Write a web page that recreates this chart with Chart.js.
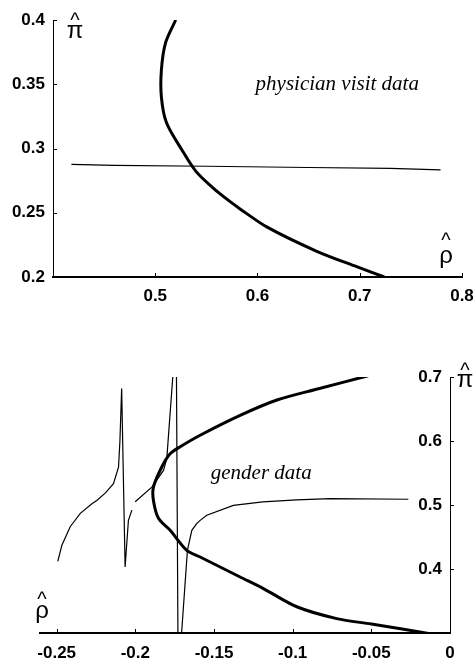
<!DOCTYPE html>
<html>
<head>
<meta charset="utf-8">
<script src="https://cdn.jsdelivr.net/npm/chart.js@4.4.1/dist/chart.umd.min.js"></script>
<style>
  html, body { margin: 0; padding: 0; background: #fff; overflow: hidden; }
  body { width: 473px; height: 661px; position: relative; }
  canvas { position: absolute; left: 0; }
  #visitChart { top: 0; }
  #genderChart { top: 320px; }
</style>
</head>
<body>
<canvas id="visitChart" width="473" height="320"></canvas>
<canvas id="genderChart" width="473" height="341"></canvas>
<script>
// physician visit data (top panel)
const visitRhoTicks = [0.5, 0.6, 0.7, 0.8];
const visitPiTicks = [0.2, 0.25, 0.3, 0.35, 0.4];
const visitThickRho = [0.520, 0.510, 0.506, 0.506, 0.511, 0.526, 0.540, 0.557, 0.571, 0.583, 0.609, 0.658, 0.697, 0.724];
const visitThickPi  = [0.400, 0.382, 0.361, 0.340, 0.320, 0.299, 0.282, 0.269, 0.260, 0.253, 0.239, 0.220, 0.208, 0.200];
const visitThinRho = [0.418, 0.46, 0.55, 0.65, 0.73, 0.779];
const visitThinPi  = [0.2877, 0.2868, 0.2862, 0.2852, 0.2845, 0.2833];

// gender data (bottom panel)
const genderRhoTicks = [-0.25, -0.2, -0.15, -0.1, -0.05, 0];
const genderPiTicks = [0.4, 0.5, 0.6, 0.7];
const genderThickRho = [-0.052, -0.083, -0.110, -0.1334, -0.1588, -0.1715, -0.1779, -0.1832, -0.1885, -0.1885, -0.1853, -0.1779, -0.1673, -0.1588, -0.1334, -0.1186, -0.0974, -0.072, -0.050, -0.0127];
const genderThickPi  = [0.702, 0.682, 0.664, 0.640, 0.609, 0.591, 0.580, 0.5594, 0.528, 0.507, 0.4792, 0.4605, 0.4292, 0.4188, 0.3875, 0.3694, 0.341, 0.3225, 0.314, 0.299];
const genderThinRho = [-0.2493, -0.2467, -0.2414, -0.235, -0.2276, -0.2245, -0.2190, -0.2139, -0.2107, -0.2098, -0.2087, -0.2065, -0.2044, -0.2022, -0.2012, -0.2001, -0.1895, -0.1821, -0.1800, -0.1762, -0.1750, -0.1740, -0.1728, -0.1716, -0.1706, -0.1669, -0.1641, -0.1609, -0.1588, -0.1546, -0.1377, -0.119, -0.0975, -0.0762, -0.0265];
const genderThinPi  = [0.412, 0.437, 0.466, 0.487, 0.502, 0.507, 0.519, 0.5334, 0.559, 0.600, 0.682, 0.403, 0.476, 0.492, null, 0.505, 0.528, 0.554, 0.573, 0.700, 0.760, 0.760, 0.240, 0.240, 0.300, 0.429, 0.4604, 0.4714, 0.476, 0.484, 0.4995, 0.505, 0.508, 0.510, 0.509];

const tickFont = { family: '"Liberation Sans", Arial, sans-serif', size: 17, weight: 'bold' };

function zip(xs, ys) { return xs.map((x, i) => ({ x: x, y: ys[i] })); }
function fmt(v) { return String(+Number(v).toFixed(3)); }

// keep the plot box where the picture has it: fixed axis size, no label overhang
function fixedAxis(ticks, size, horizontal) {
  return {
    afterBuildTicks: s => { s.ticks = ticks.map(v => ({ value: v })); },
    afterFit: s => {
      if (horizontal) s.height = size; else s.width = size;
      s.paddingLeft = s.paddingRight = s.paddingTop = s.paddingBottom = 0;
    }
  };
}

// inward tick marks, hat labels and the panel note
const decor = {
  id: 'decor',
  afterDraw(chart, args, opts) {
    const { ctx, chartArea: a, scales: { x, y } } = chart;
    ctx.save();
    ctx.strokeStyle = '#000';
    ctx.lineWidth = 1;
    ctx.beginPath();
    x.ticks.forEach(t => {
      const px = Math.round(x.getPixelForValue(t.value)) + 0.5;
      ctx.moveTo(px, a.bottom); ctx.lineTo(px, a.bottom - 4);
    });
    const yx = opts.yOnRight ? a.right : a.left;
    y.ticks.forEach(t => {
      const py = Math.round(y.getPixelForValue(t.value)) + 0.5;
      ctx.moveTo(yx, py); ctx.lineTo(yx + 4, py);
    });
    ctx.stroke();

    ctx.fillStyle = '#000';
    ctx.textAlign = 'center';
    ctx.textBaseline = 'alphabetic';
    opts.marks.forEach(m => {
      ctx.font = m.font;
      ctx.fillText(m.text, a[m.ax] + m.dx, a[m.ay] + m.dy);
    });

    ctx.font = 'italic 21px "Liberation Serif", "Times New Roman", serif';
    ctx.textBaseline = 'middle';
    ctx.fillText(opts.note, x.getPixelForValue(opts.noteAt[0]), y.getPixelForValue(opts.noteAt[1]));
    ctx.restore();
  }
};

const hatFont = '20px "Liberation Sans", Arial, sans-serif';
const greekFont = '24px "Liberation Sans", Arial, sans-serif';

function lineSet(data, width, tension) {
  return { data: data, showLine: true, borderColor: '#000', borderWidth: width,
           pointRadius: 0, tension: tension, fill: false, spanGaps: false };
}

function axis(extra) {
  return Object.assign({
    type: 'linear',
    grid: { display: true, drawOnChartArea: false, drawTicks: false },
    border: { display: true, color: '#000', width: 1 },
    ticks: { color: '#000', font: tickFont, callback: fmt, maxRotation: 0, autoSkip: false }
  }, extra);
}

new Chart(document.getElementById('visitChart'), {
  type: 'scatter',
  data: {
    datasets: [
      lineSet(zip(visitThickRho, visitThickPi), 3, 0.3),
      lineSet(zip(visitThinRho, visitThinPi), 1.2, 0)
    ]
  },
  plugins: [decor],
  options: {
    responsive: false, animation: false, devicePixelRatio: 1,
    layout: { padding: { left: 0, right: 11, top: 20, bottom: 13 } },
    plugins: {
      legend: { display: false }, tooltip: { enabled: false },
      decor: {
        yOnRight: false,
        note: 'physician visit data', noteAt: [0.678, 0.3495],
        marks: [
          { text: '^', font: hatFont, ax: 'left', dx: 22, ay: 'top', dy: 7 },
          { text: 'π', font: greekFont, ax: 'left', dx: 22, ay: 'top', dy: 18 },
          { text: '^', font: hatFont, ax: 'right', dx: -16, ay: 'bottom', dy: -30 },
          { text: 'ρ', font: greekFont, ax: 'right', dx: -16, ay: 'bottom', dy: -14 }
        ]
      }
    },
    scales: {
      x: axis(Object.assign({ min: 0.4, max: 0.8, position: 'bottom',
        border: { display: true, color: '#000', width: 2 },
        ticks: { color: '#000', font: tickFont, callback: fmt, maxRotation: 0, autoSkip: false, padding: 9 } },
        fixedAxis(visitRhoTicks, 30, true))),
      y: axis(Object.assign({ min: 0.2, max: 0.4, position: 'left',
        ticks: { color: '#000', font: tickFont, callback: fmt, autoSkip: false, padding: 8 } },
        fixedAxis(visitPiTicks, 53, false)))
    }
  }
});

new Chart(document.getElementById('genderChart'), {
  type: 'scatter',
  data: {
    datasets: [
      lineSet(zip(genderThickRho, genderThickPi), 3, 0.3),
      lineSet(zip(genderThinRho, genderThinPi), 1.2, 0)
    ]
  },
  plugins: [decor],
  options: {
    responsive: false, animation: false, devicePixelRatio: 1,
    layout: { padding: { left: 40, right: 0, top: 57, bottom: 0 } },
    plugins: {
      legend: { display: false }, tooltip: { enabled: false },
      decor: {
        yOnRight: true,
        note: 'gender data', noteAt: [-0.120, 0.5495],
        marks: [
          { text: '^', font: hatFont, ax: 'right', dx: 15, ay: 'top', dy: 0 },
          { text: 'π', font: greekFont, ax: 'right', dx: 15, ay: 'top', dy: 10 },
          { text: '^', font: hatFont, ax: 'left', dx: 2, ay: 'bottom', dy: -27 },
          { text: 'ρ', font: greekFont, ax: 'left', dx: 2, ay: 'bottom', dy: -15 }
        ]
      }
    },
    scales: {
      x: axis(Object.assign({ min: -0.2606, max: 0, position: 'bottom',
        border: { display: true, color: '#000', width: 2 },
        ticks: { color: '#000', font: tickFont, callback: fmt, maxRotation: 0, autoSkip: false, padding: 10 } },
        fixedAxis(genderRhoTicks, 28, true))),
      y: axis(Object.assign({ min: 0.3, max: 0.7, position: 'right',
        ticks: { color: '#000', font: tickFont, callback: fmt, autoSkip: false, mirror: true, padding: -8 } },
        fixedAxis(genderPiTicks, 23, false)))
    }
  }
});
</script>
</body>
</html>
